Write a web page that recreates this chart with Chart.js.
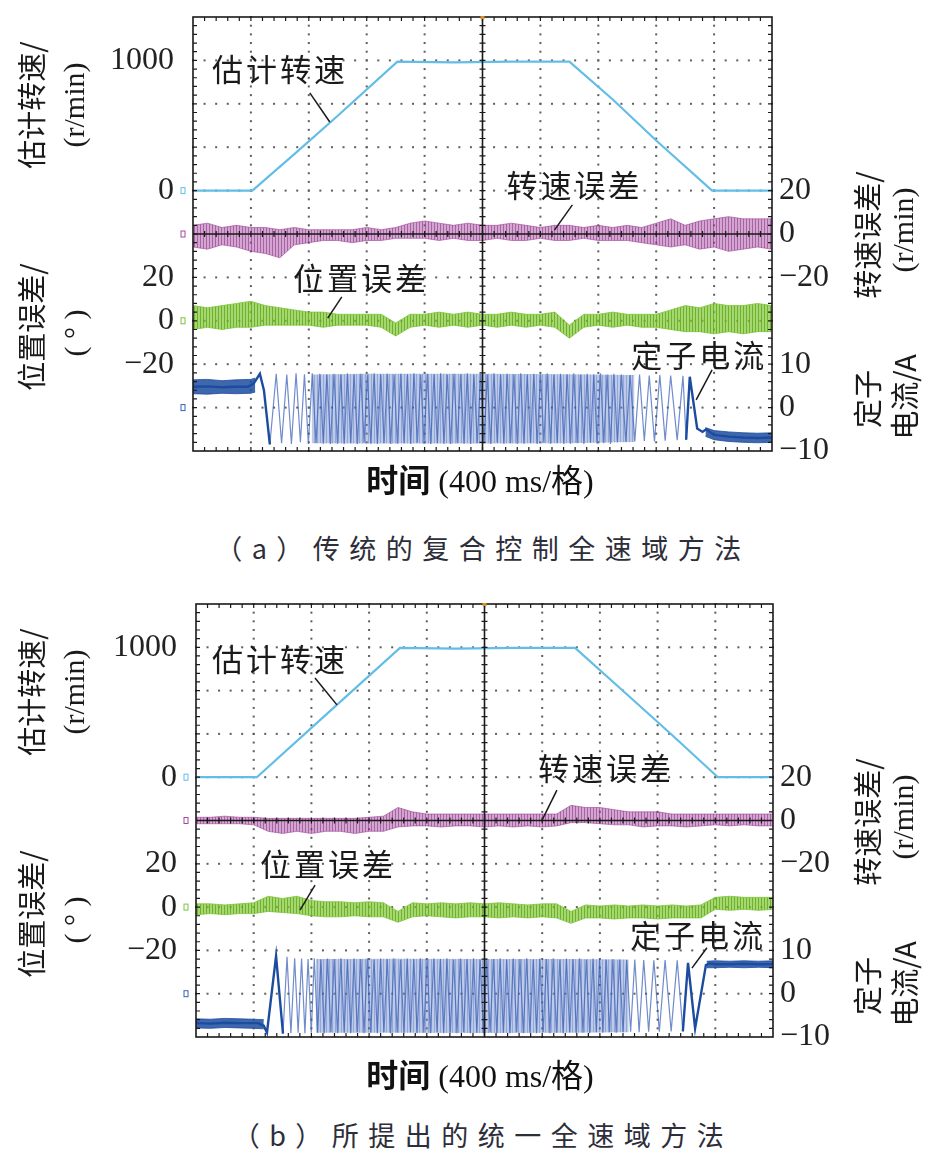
<!DOCTYPE html>
<html>
<head>
<meta charset="utf-8">
<script src="https://cdn.jsdelivr.net/npm/chart.js@4.4.1/dist/chart.umd.min.js"></script>
<style>
  body { margin: 0; background: #fff; }
  #wrap { position: relative; width: 936px; height: 1159px; overflow: hidden; }
  canvas { position: absolute; left: 0; }
  .xl { position: absolute; left: 0; width: 960px; text-align: center; font: 32px "Liberation Serif", "Noto Sans CJK SC"; line-height: 36px; color: #111; }
  .xl b { font-family: "Noto Sans CJK SC"; font-weight: 700; }
  .cap { position: absolute; left: 0; width: 966px; text-align: center; font: 27px "Noto Sans CJK SC"; letter-spacing: 9.5px; line-height: 32px; color: #2e2e3a; }
</style>
</head>
<body>
<div id="wrap">
  <canvas id="chartA" width="936" height="500" style="top:0"></canvas>
  <div class="xl" style="top:460px"><b>时间</b> (400 ms/格)</div>
  <div class="cap" style="top:532px">（a）传统的复合控制全速域方法</div>
  <canvas id="chartB" width="936" height="500" style="top:587px"></canvas>
  <div class="xl" style="top:1055px"><b>时间</b> (400 ms/格)</div>
  <div class="cap" style="top:1119px">（b）所提出的统一全速域方法</div>
</div>
<script>
// time axis in ms, 400 ms per division
var timeTicks = [0, 400, 800, 1200, 1600, 2000, 2400, 2800, 3200, 3600, 4000];
var divTicks = [0, 1, 2, 3, 4, 5, 6, 7, 8, 9, 10];

// tick labels shown at each side
var spdTicks = [1000, 0];
var posTicks = [20, 0, -20];
var errTicks = [20, 0, -20];
var curTicks = [10, 0, -10];

// sample times for the noise envelopes (ms)
var bandT = [0, 100, 200, 300, 400, 500, 600, 700, 800, 900, 1000, 1100, 1200, 1300, 1400, 1500, 1600, 1700, 1800, 1900, 2000,
             2100, 2200, 2300, 2400, 2500, 2600, 2700, 2800, 2900, 3000, 3100, 3200, 3300, 3400, 3500, 3600, 3700, 3800, 3900, 4000];

// ---------- (a) conventional method ----------
// estimated speed, r/min
var spdA_t = [0, 410, 700, 1000, 1412, 1800, 2200, 2600, 2900, 3200, 3586, 4000];
var spdA_v = [0, 0, 280, 575, 990, 985, 990, 990, 700, 385, 0, 0];
// speed error envelope, r/min
var errA_hi = [4, 5, 3, 4, 3, 3, 2, 3, 2, 2, 2, 2, 3, 2, 3, 5, 6, 5, 4, 5, 4, 4, 5, 4, 3, 4, 4, 3, 4, 3, 4, 3, 5, 7, 4, 6, 7, 8, 7, 7, 7];
var errA_lo = [-6, -7, -5, -6, -8, -9, -11, -5, -4, -3, -3, -4, -3, -3, -2, -2, -2, -3, -2, -3, -3, -2, -3, -3, -2, -3, -3, -2, -3, -3, -3, -4, -5, -6, -5, -7, -6, -8, -7, -6, -7];
// position error envelope, deg
var posA_hi = [7, 6, 7, 8, 9, 7, 6, 5, 4, 4, 3, 3, 3, 3, -1, 3, 3, 4, 3, 4, 3, 3, 4, 3, 3, 4, -2, 3, 3, 4, 3, 3, 3, 5, 7, 6, 8, 7, 7, 8, 7];
var posA_lo = [-4, -3, -4, -3, -3, -2, -2, -2, -2, -3, -2, -2, -2, -3, -7, -3, -2, -3, -2, -3, -2, -3, -2, -3, -2, -3, -8, -3, -2, -3, -2, -3, -3, -4, -5, -5, -6, -5, -6, -5, -5];
// stator current, A
var curA_pre_t = [0, 100, 200, 300, 400, 430];
var curA_pre_hi = [6.4, 6.5, 6.2, 6.4, 6.5, 6.8];
var curA_pre_lo = [3.2, 3.1, 3.3, 3.2, 3.3, 3.6];
var curA_tr_t = [0, 100, 200, 300, 380, 420, 462, 490, 531];
var curA_tr_v = [4.8, 4.9, 4.7, 4.8, 4.8, 5.6, 7.8, 4.0, -8.5];
var curA_osc_t = [531, 575, 612, 648, 680, 712, 742, 770, 797, 824, 850, 876, 900, 925, 950,
  974, 998, 1021, 1044, 1067, 1090, 1113, 1136, 1159, 1182, 1205, 1228, 1251, 1274, 1297, 1320, 1343, 1366, 1389, 1412,
  1435, 1458, 1481, 1504, 1527, 1550, 1573, 1596, 1619, 1642, 1665, 1688, 1711, 1734, 1757, 1780, 1803, 1826, 1849, 1872,
  1895, 1918, 1941, 1964, 1987, 2010, 2033, 2056, 2079, 2102, 2125, 2148, 2171, 2194, 2217, 2240, 2263, 2286, 2309, 2332,
  2355, 2378, 2401, 2424, 2447, 2470, 2493, 2516, 2539, 2562, 2585, 2608, 2631, 2654, 2677, 2700, 2723, 2746, 2769, 2792,
  2815, 2838, 2861, 2884, 2907, 2932, 2960, 2990, 3020, 3052, 3085, 3118, 3152, 3188, 3225, 3262, 3300, 3345, 3385, 3407];
var curA_osc_v = [-8.5,
  7.8, -8.2, 7.6, -8.4, 7.9, -8.0, 7.7, -8.4, 7.9, -8.2, 7.8, -8.3, 7.7, -8.4,
  7.8, -8.3, 7.6, -8.4, 7.9, -8.2, 7.7, -8.4, 7.8, -8.1, 7.6, -8.3, 7.9, -8.4, 7.7, -8.2, 7.8, -8.4, 7.6, -8.3,
  7.8, -8.2, 7.7, -8.4, 7.9, -8.1, 7.6, -8.3, 7.8, -8.4, 7.7, -8.2, 7.9, -8.3, 7.6, -8.4, 7.8, -8.2, 7.7, -8.3,
  7.9, -8.4, 7.6, -8.2, 7.8, -8.3, 7.7, -8.4, 7.9, -8.1, 7.6, -8.3, 7.8, -8.2, 7.7, -8.4, 7.9, -8.3, 7.6, -8.2,
  7.8, -8.4, 7.7, -8.1, 7.9, -8.3, 7.6, -8.2, 7.8, -8.4, 7.7, -8.3, 7.9, -8.2, 7.6, -8.4, 7.8, -8.1, 7.7, -8.3,
  7.9, -8.2, 7.6, -8.4, 7.8, -8.0, 7.6, -7.9, 7.5, -7.8, 7.6, -7.7, 7.4, -7.8, 7.5, -7.6, 7.4, -7.5, 7.3, -7.4];
// envelope of the dense part of the oscillation
var curA_env_t = [820, 1200, 2000, 2600, 3050];
var curA_env_hi = [7.6, 7.8, 7.8, 7.7, 7.5];
var curA_env_lo = [-8.2, -8.3, -8.3, -8.2, -7.9];
var curA_end_t = [3407, 3432, 3483, 3520, 3545, 3600, 3700, 3800, 3900, 4000];
var curA_end_v = [-7.4, 7.1, -4.8, -5.6, -5.0, -6.3, -6.7, -6.9, -7.0, -6.9];
var curA_post_t = [3540, 3600, 3700, 3800, 3900, 4000];
var curA_post_hi = [-4.6, -5.3, -5.6, -5.8, -5.9, -5.8];
var curA_post_lo = [-6.6, -7.4, -7.8, -8.0, -8.1, -8.0];

// ---------- (b) proposed method ----------
var spdB_t = [0, 422, 800, 1414, 1800, 2200, 2628, 3000, 3300, 3618, 4000];
var spdB_v = [0, 0, 380, 995, 990, 995, 995, 625, 325, 0, 0];
var errB_hi = [1.5, 1.5, 2, 1.5, 1.5, 1, 1, 1, 1, 1, 1, 1, 1.5, 2, 6, 4, 3, 3, 3, 3, 3, 3, 3, 3, 3, 3, 7, 6, 6, 5, 4, 4, 4, 3, 3, 3, 3, 3, 3, 3, 3];
var errB_lo = [-1.5, -1.5, -1.5, -1.5, -2, -5, -6, -5, -6, -5, -5, -6, -5, -5, -3, -2.5, -2.5, -3, -2.5, -2.5, -3, -2.5, -3, -2.5, -3,
               -2.5, -1, -1, -1.5, -2, -2, -3, -2.5, -2.5, -3, -2.5, -2, -2.5, -2, -2.5, -2.5];
var posB_hi = [1.5, 1.5, 1, 1.5, 2, 5, 4, 5, 3, 2.5, 2.5, 2, 2.5, 2, -2, 2, 1.5, 2, 1.5, 2, 1.5, 2, 1.5, 1, 1.5, 1.5, -2, 1, 0.5, 1,
               0.5, 1, 0.5, 1, 0.5, 1, 4.5, 5, 4.5, 4.5, 4.5];
var posB_lo = [-3.5, -3, -3.5, -3, -3, -2, -2.5, -3, -4, -4.5, -4.5, -4, -4.5, -4.5, -7, -4.5, -4, -4.5, -5, -4.5, -4.5, -5, -4.5, -5, -4.5,
               -5, -7.5, -5, -5, -5.5, -5, -5, -5.5, -5, -5, -5, -1, -1.5, -1, -1.5, -1];
var curB_pre_t = [0, 100, 200, 300, 400, 470];
var curB_pre_hi = [-5.8, -5.9, -5.7, -5.8, -5.9, -6.0];
var curB_pre_lo = [-7.9, -8.0, -7.8, -7.9, -8.0, -8.1];
var curB_tr_t = [0, 100, 200, 300, 430, 470, 492, 555, 603];
var curB_tr_v = [-6.8, -6.9, -6.7, -6.8, -6.8, -7.4, -9.0, 8.7, -9.2];
var curB_osc_t = [603, 631, 658, 684, 708, 732, 755, 777, 799, 820,
  843, 866, 889, 912, 935, 958, 981, 1004, 1027, 1050, 1073, 1096, 1119, 1142, 1165, 1188, 1211, 1234, 1257, 1280,
  1303, 1326, 1349, 1372, 1395, 1418, 1441, 1464, 1487, 1510, 1533, 1556, 1579, 1602, 1625, 1648, 1671, 1694, 1717, 1740,
  1763, 1786, 1809, 1832, 1855, 1878, 1901, 1924, 1947, 1970, 1993, 2016, 2039, 2062, 2085, 2108, 2131, 2154, 2177, 2200,
  2223, 2246, 2269, 2292, 2315, 2338, 2361, 2384, 2407, 2430, 2453, 2476, 2499, 2522, 2545, 2568, 2591, 2614, 2637, 2660,
  2683, 2706, 2729, 2752, 2775, 2798, 2821, 2844, 2867, 2890, 2913, 2936,
  2960, 2986, 3013, 3042, 3072, 3104, 3138, 3174, 3212, 3252, 3294, 3336, 3375];
var curB_osc_v = [-9.2,
  8.5, -9.1, 8.2, -9.0, 8.1, -9.1, 8.0, -9.0, 8.2, -9.0, 7.9, -9.1, 8.1, -8.9,
  8.0, -9.1, 8.2, -9.0, 7.9, -9.1, 8.1, -8.9, 8.0, -9.1, 8.2, -9.0, 7.9, -9.1, 8.1, -8.9, 8.0, -9.1, 8.2, -9.0,
  7.9, -9.1, 8.1, -8.9, 8.0, -9.1, 8.2, -9.0, 7.9, -9.1, 8.1, -8.9, 8.0, -9.1, 8.2, -9.0, 7.9, -9.1, 8.1, -8.9,
  8.0, -9.1, 8.2, -9.0, 7.9, -9.1, 8.1, -8.9, 8.0, -9.1, 8.2, -9.0, 7.9, -9.1, 8.1, -8.9, 8.0, -9.1, 8.2, -9.0,
  7.9, -9.1, 8.1, -8.9, 8.0, -9.1, 8.2, -9.0, 7.9, -9.1, 8.1, -8.9, 8.0, -9.1, 8.2, -9.0, 7.9, -9.1, 8.1, -8.9,
  8.0, -9.0, 7.9, -8.9, 8.0, -9.0, 7.9, -8.9, 7.8, -8.8, 7.9, -8.9, 7.8, -8.8, 7.7, -8.8, 7.8, -8.7, 7.7, -8.7];
var curB_env_t = [830, 1400, 2000, 2600, 3000];
var curB_env_hi = [8.0, 8.1, 8.0, 8.0, 7.9];
var curB_env_lo = [-9.0, -9.0, -9.1, -9.0, -8.9];
var curB_end_t = [3375, 3411, 3460, 3535, 3560, 3600, 3700, 3800, 3900, 4000];
var curB_end_v = [-8.7, 7.1, -8.0, 6.6, 7.0, 6.8, 6.8, 6.9, 6.8, 6.8];
var curB_post_t = [3540, 3600, 3700, 3800, 3900, 4000];
var curB_post_hi = [7.5, 7.6, 7.5, 7.6, 7.5, 7.6];
var curB_post_lo = [6.0, 6.0, 6.1, 6.0, 6.1, 6.0];

// label positions, in (ms, division) units
var notesA = [
  { text: '估计转速', t: 131, d: 8.80, lead: [807, 8.25, 945, 7.58] },
  { text: '转速误差', t: 2166, d: 6.13, lead: [2621, 5.67, 2497, 5.09] },
  { text: '位置误差', t: 690, d: 3.99, lead: [1028, 3.55, 931, 3.06] },
  { text: '定子电流', t: 3028, d: 2.21, lead: [3586, 1.87, 3476, 1.18] }
];
var notesB = [
  { text: '估计转速', t: 111, d: 8.73, lead: [825, 8.29, 977, 7.67] },
  { text: '转速误差', t: 2371, d: 6.21, lead: [2502, 5.70, 2399, 5.01] },
  { text: '位置误差', t: 444, d: 4.00, lead: [825, 3.51, 721, 2.93] },
  { text: '定子电流', t: 3009, d: 2.36, lead: [3542, 2.06, 3438, 1.59] }
];

var CJK = '"Noto Sans CJK SC"';
var SERIF = '"Liberation Serif", "Noto Sans CJK SC"';

// vertical streak pattern, gives the noisy traces some texture
function streaks(c1, c2) {
  var cv = document.createElement('canvas');
  cv.width = 3; cv.height = 4;
  var g = cv.getContext('2d');
  g.fillStyle = c1; g.fillRect(0, 0, 2, 4);
  g.fillStyle = c2; g.fillRect(2, 0, 1, 4);
  return g.createPattern(cv, 'repeat');
}

function pts(t, v) {
  return t.map(function (tt, i) { return { x: tt, y: v[i] }; });
}
function trace(t, v, axis, color, width) {
  return { data: pts(t, v), yAxisID: axis, borderColor: color, borderWidth: width, pointRadius: 0, fill: false, tension: 0 };
}
function band(t, hi, lo, axis, edge, fillColor, edgeWidth) {
  var w = edgeWidth == null ? 0.8 : edgeWidth;
  return [
    { data: pts(t, hi), yAxisID: axis, borderColor: edge, borderWidth: w, backgroundColor: fillColor, fill: '+1', pointRadius: 0, tension: 0 },
    { data: pts(t, lo), yAxisID: axis, borderColor: edge, borderWidth: w, fill: false, pointRadius: 0, tension: 0 }
  ];
}
function fmt(v) { return v < 0 ? '\u2212' + Math.abs(v) : String(v); }

function vtext(ctx, s, x, y, font) {
  ctx.save();
  ctx.translate(x, y);
  ctx.rotate(-Math.PI / 2);
  ctx.font = font;
  ctx.textAlign = 'center';
  ctx.textBaseline = 'middle';
  ctx.fillText(s, 0, 0);
  ctx.restore();
}

// oscilloscope screen: dotted grid, frame, centre cross, labels
var scopePlugin = {
  id: 'scope',
  beforeDatasetsDraw: function (chart) {
    var ctx = chart.ctx, a = chart.chartArea, x = chart.scales.x, yd = chart.scales.yDiv;
    ctx.save();
    ctx.fillStyle = '#5e5e5e';
    timeTicks.forEach(function (t) {
      if (t === 0 || t === 2000 || t === 4000) return;
      var px = x.getPixelForValue(t);
      for (var j = 0; j <= 50; j++) ctx.fillRect(px - 1, a.top + j * a.height / 50 - 1, 2, 2);
    });
    divTicks.forEach(function (d) {
      if (d === 0 || d === 5 || d === 10) return;
      var py = yd.getPixelForValue(d);
      for (var j = 0; j <= 50; j++) ctx.fillRect(a.left + j * a.width / 50 - 1, py - 1, 2, 2);
    });
    ctx.restore();
  },
  afterDatasetsDraw: function (chart, args, opts) {
    var ctx = chart.ctx, a = chart.chartArea, s = chart.scales;
    var cx = s.x.getPixelForValue(2000), cy = s.yDiv.getPixelForValue(5);
    ctx.save();
    ctx.strokeStyle = '#1a1a1a';
    ctx.lineWidth = 1.6;
    ctx.strokeRect(a.left, a.top, a.width, a.height);
    ctx.beginPath();
    ctx.moveTo(cx, a.top); ctx.lineTo(cx, a.bottom);
    ctx.moveTo(a.left, cy); ctx.lineTo(a.right, cy);
    ctx.stroke();
    ctx.lineWidth = 1.2;
    ctx.beginPath();
    for (var j = 1; j < 50; j++) {
      var px = a.left + j * a.width / 50;
      ctx.moveTo(px, a.top); ctx.lineTo(px, a.top + 4);
      ctx.moveTo(px, a.bottom - 4); ctx.lineTo(px, a.bottom);
      ctx.moveTo(px, cy - 3); ctx.lineTo(px, cy + 3);
      var py = a.top + j * a.height / 50;
      ctx.moveTo(a.left, py); ctx.lineTo(a.left + 4, py);
      ctx.moveTo(a.right - 4, py); ctx.lineTo(a.right, py);
      ctx.moveTo(cx - 3, py); ctx.lineTo(cx + 3, py);
    }
    ctx.stroke();
    // trigger mark
    ctx.fillStyle = '#e0902a';
    ctx.fillRect(cx - 2, a.top - 1, 4, 3);
    // channel zero markers
    [['ySpd', '#63bde6'], ['yErr', '#a04a9c'], ['yPos', '#7cc242'], ['yCur', '#3a62b0']].forEach(function (m) {
      var py = s[m[0]].getPixelForValue(0);
      ctx.strokeStyle = m[1];
      ctx.lineWidth = 1;
      ctx.strokeRect(a.left - 12, py - 3, 4, 6);
    });

    // tick labels
    ctx.fillStyle = '#222';
    ctx.font = '32px ' + SERIF;
    ctx.textBaseline = 'middle';
    ctx.textAlign = 'right';
    spdTicks.forEach(function (v) { ctx.fillText(fmt(v), a.left - 19, s.ySpd.getPixelForValue(v)); });
    posTicks.forEach(function (v) { ctx.fillText(fmt(v), a.left - 19, s.yPos.getPixelForValue(v)); });
    ctx.textAlign = 'left';
    errTicks.forEach(function (v) { ctx.fillText(fmt(v), a.right + 7, s.yErr.getPixelForValue(v)); });
    curTicks.forEach(function (v) { ctx.fillText(fmt(v), a.right + 7, s.yCur.getPixelForValue(v)); });

    // trace labels with leader lines
    ctx.font = '31px ' + CJK;
    ctx.letterSpacing = '3px';
    ctx.fillStyle = '#1a1a1a';
    ctx.strokeStyle = '#1a1a1a';
    ctx.lineWidth = 1.5;
    opts.notes.forEach(function (n) {
      ctx.fillText(n.text, s.x.getPixelForValue(n.t), s.yDiv.getPixelForValue(n.d));
      ctx.beginPath();
      ctx.moveTo(s.x.getPixelForValue(n.lead[0]), s.yDiv.getPixelForValue(n.lead[1]));
      ctx.lineTo(s.x.getPixelForValue(n.lead[2]), s.yDiv.getPixelForValue(n.lead[3]));
      ctx.stroke();
    });
    ctx.letterSpacing = '0px';

    // axis titles
    ctx.fillStyle = '#1a1a1a';
    vtext(ctx, '估计转速/', 32, a.top + 88, '29px ' + CJK);
    vtext(ctx, '(r/min)', 76, a.top + 88, '30px ' + SERIF);
    vtext(ctx, '位置误差/', 32, a.top + 310, '29px ' + CJK);
    vtext(ctx, '( ° )', 77, a.top + 316, '30px ' + SERIF);
    vtext(ctx, '转速误差/', 868, a.top + 218, '29px ' + CJK);
    vtext(ctx, '(r/min)', 905, a.top + 213, '30px ' + SERIF);
    vtext(ctx, '定子', 868, a.top + 382, '29px ' + CJK);
    vtext(ctx, '电流/A', 905, a.top + 380, '29px ' + CJK);
    ctx.restore();
  }
};

var BLUE_DARK = '#1c4c9f';
var BLUE_OSC = 'rgba(58, 96, 182, 0.72)';

function makeChart(id, pad, d) {
  var datasets = [].concat(
    [trace(d.curEndT, d.curEndV, 'yCur', BLUE_DARK, 2.4)],
    [trace(d.curTrT, d.curTrV, 'yCur', BLUE_DARK, 2.4)],
    band(d.curPostT, d.curPostHi, d.curPostLo, 'yCur', BLUE_DARK, 'rgba(28, 76, 159, 0.85)'),
    band(d.curPreT, d.curPreHi, d.curPreLo, 'yCur', BLUE_DARK, 'rgba(28, 76, 159, 0.85)'),
    [trace(d.curOscT, d.curOscV, 'yCur', BLUE_OSC, 1.2)],
    band(d.curEnvT, d.curEnvHi, d.curEnvLo, 'yCur', 'rgba(0,0,0,0)',
         streaks('rgba(108, 138, 205, 0.45)', 'rgba(60, 95, 180, 0.55)'), 0),
    [trace(d.spdT, d.spdV, 'ySpd', '#63bde6', 2.2)],
    band(bandT, d.errHi, d.errLo, 'yErr', 'rgba(150, 55, 145, 0.7)',
         streaks('rgba(168, 78, 162, 0.5)', 'rgba(140, 45, 135, 0.75)')),
    band(bandT, d.posHi, d.posLo, 'yPos', '#82c43c',
         streaks('rgba(128, 198, 56, 0.7)', 'rgba(100, 175, 30, 0.95)'))
  );
  return new Chart(document.getElementById(id), {
    type: 'line',
    data: { datasets: datasets },
    options: {
      responsive: false,
      devicePixelRatio: 1,
      animation: false,
      layout: { padding: pad },
      plugins: { legend: { display: false }, tooltip: { enabled: false }, scope: { notes: d.notes } },
      elements: { point: { radius: 0 }, line: { tension: 0 } },
      scales: {
        x: { type: 'linear', min: 0, max: 4000, display: false },
        yDiv: { type: 'linear', min: 0, max: 10, display: false },
        // 1000 r/min spans 3 divisions, zero on division 6
        ySpd: { type: 'linear', min: -2000, max: 4000 / 3, display: false },
        // 20 r/min per division, zero on division 5
        yErr: { type: 'linear', min: -100, max: 100, display: false },
        // 20 deg per division, zero on division 3
        yPos: { type: 'linear', min: -60, max: 140, display: false },
        // 10 A per division, zero on division 1
        yCur: { type: 'linear', min: -10, max: 90, display: false }
      }
    },
    plugins: [scopePlugin]
  });
}

makeChart('chartA', { left: 193, top: 17, right: 164, bottom: 49 }, {
  spdT: spdA_t, spdV: spdA_v, errHi: errA_hi, errLo: errA_lo, posHi: posA_hi, posLo: posA_lo,
  curPreT: curA_pre_t, curPreHi: curA_pre_hi, curPreLo: curA_pre_lo,
  curTrT: curA_tr_t, curTrV: curA_tr_v, curOscT: curA_osc_t, curOscV: curA_osc_v,
  curEnvT: curA_env_t, curEnvHi: curA_env_hi, curEnvLo: curA_env_lo,
  curEndT: curA_end_t, curEndV: curA_end_v,
  curPostT: curA_post_t, curPostHi: curA_post_hi, curPostLo: curA_post_lo,
  notes: notesA
});

makeChart('chartB', { left: 196, top: 17, right: 163, bottom: 50 }, {
  spdT: spdB_t, spdV: spdB_v, errHi: errB_hi, errLo: errB_lo, posHi: posB_hi, posLo: posB_lo,
  curPreT: curB_pre_t, curPreHi: curB_pre_hi, curPreLo: curB_pre_lo,
  curTrT: curB_tr_t, curTrV: curB_tr_v, curOscT: curB_osc_t, curOscV: curB_osc_v,
  curEnvT: curB_env_t, curEnvHi: curB_env_hi, curEnvLo: curB_env_lo,
  curEndT: curB_end_t, curEndV: curB_end_v,
  curPostT: curB_post_t, curPostHi: curB_post_hi, curPostLo: curB_post_lo,
  notes: notesB
});
</script>
</body>
</html>
